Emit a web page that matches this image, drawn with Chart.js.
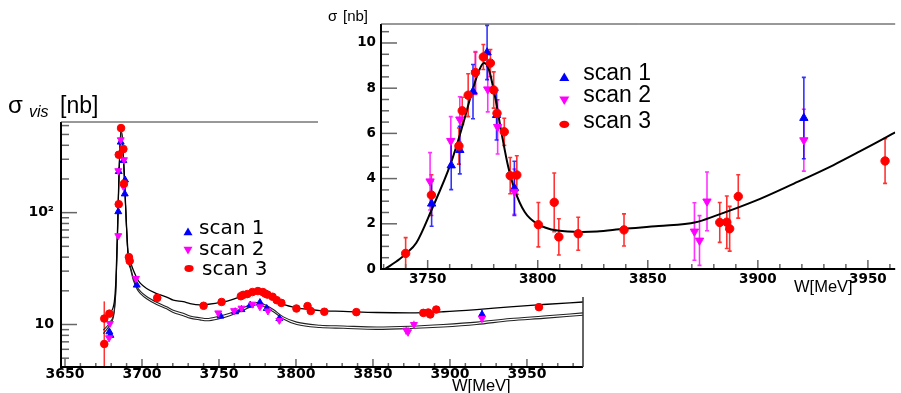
<!DOCTYPE html>
<html lang="en">
<head>
  <meta charset="UTF-8">
  <title>Visible cross section scans</title>
  <script src="https://cdn.jsdelivr.net/npm/chart.js"></script>
  <style>
    body { margin: 0; background: #ffffff; }
    #wrap { position: relative; width: 901px; height: 393px; overflow: hidden; }
    #mainChart { position: absolute; left: 0; top: 0; }
    #insetChart { position: absolute; left: 318px; top: 0; background: #ffffff; }
  </style>
</head>
<body>
  <div id="wrap">
    <canvas id="mainChart" width="901" height="393"></canvas>
    <canvas id="insetChart" width="583" height="297"></canvas>
  </div>

  <script>
    // ---- main panel (log scale, sigma_vis) ----
    const mainScan1W     = [3678.8, 3679.5, 3684.6, 3684.9, 3686.2, 3687.9, 3688.8, 3689.0, 3696.6, 3751.0, 3760.5, 3764.6, 3770.3, 3776.6, 3781.0, 3789.2, 3920.8];
    const mainScan1Sigma = [8.6, 8.0, 102, 233, 427, 292, 147, 196, 22.5, 11.9, 13.0, 13.6, 14.9, 15.7, 13.9, 11.3, 12.3];
    const mainScan1Err   = [0.5, 0.5, 3, 6, 10, 8, 4, 5, 1, 0.4, 0.4, 0.4, 0.5, 0.5, 0.5, 0.4, 1.2];

    const mainScan2W     = [3679.2, 3678.6, 3684.6, 3684.6, 3686.2, 3687.9, 3688.3, 3696.1, 3749.5, 3759.8, 3764.6, 3771.7, 3776.6, 3781.8, 3789.2, 3871.6, 3872.8, 3876.6, 3920.8];
    const mainScan2Sigma = [10.2, 7.6, 62.2, 237, 448, 171, 297, 25.8, 12.7, 13.3, 14.0, 15.2, 14.4, 13.2, 10.9, 8.9, 8.6, 10.0, 11.3];
    const mainScan2Err   = [0.6, 0.6, 2, 6, 10, 4, 7, 1, 0.4, 0.4, 0.4, 0.5, 0.5, 0.4, 0.4, 0.8, 0.8, 0.8, 0.9];

    const mainScan3W     = [3675.5, 3675.5, 3678.8, 3684.9, 3684.9, 3686.4, 3687.9, 3688.3, 3691.5, 3692.0, 3709.9, 3740.0, 3751.7, 3764.2, 3765.7, 3768.4, 3771.7, 3775.3, 3778.5, 3780.0, 3781.5, 3784.8, 3787.5, 3790.5, 3800.3, 3807.5, 3809.6, 3818.4, 3839.2, 3882.7, 3885.9, 3887.2, 3891.1, 3957.8];
    const mainScan3Sigma = [11.3, 6.7, 12.5, 119, 329, 570, 370, 181, 40, 37, 17.3, 14.7, 15.9, 17.9, 18.4, 18.7, 19.5, 19.9, 19.5, 18.9, 18.5, 17.7, 16.5, 15.6, 13.9, 14.6, 13.2, 13.0, 12.9, 12.7, 12.8, 12.3, 13.6, 14.3];
    const mainScan3Err   = [0.4, 9.4, 0.4, 3, 7, 10, 8, 4, 1, 1, 0.3, 0.3, 0.3, 0.3, 0.3, 0.3, 0.3, 0.3, 0.3, 0.3, 0.3, 0.3, 0.3, 0.3, 0.3, 0.3, 0.3, 0.3, 0.3, 0.3, 0.3, 0.3, 0.3, 0.3];

    // fitted curves
    const mainFit3W     = [3674.9, 3679.2, 3682, 3683.1, 3683.8, 3686.4, 3691.1, 3692.5, 3694.4, 3697, 3699, 3703, 3709.5, 3716, 3720.3, 3726.8, 3731.2, 3737.7, 3742, 3752.8, 3758, 3763.6, 3770.1, 3775.5, 3779.9, 3785.3, 3791.8, 3800.5, 3809, 3815.6, 3830.7, 3852.4, 3874, 3895.6, 3917.3, 3939, 3960.6, 3986.4];
    const mainFit3Sigma = [10.7, 12.8, 15.9, 25.8, 51, 575, 41.8, 36, 30.5, 25.5, 23.3, 21.0, 18.9, 17.6, 16.5, 16.0, 15.4, 15.0, 15.1, 15.9, 16.6, 17.7, 19.2, 19.9, 18.9, 16.7, 15.1, 14.1, 13.6, 13.3, 13.1, 12.8, 12.7, 13.0, 13.6, 14.4, 15.1, 15.9];

    const mainFitLowW    = [3674.9, 3679.2, 3682, 3683.1, 3683.8, 3686.4, 3691.1, 3692.5, 3694.4, 3697, 3699, 3703, 3709.5, 3716, 3720.3, 3726.8, 3731.2, 3737.7, 3742, 3750.6, 3757, 3763.6, 3770, 3775.5, 3780, 3785.3, 3791.8, 3800.5, 3815.6, 3830.7, 3852.4, 3874, 3895.6, 3917.3, 3939, 3960.6, 3986.4];
    const mainFit1Sigma  = [8.9, 10.5, 13.5, 22, 47, 560, 39, 33, 26, 21.5, 19.8, 17.8, 15.8, 14.4, 13.4, 12.6, 11.9, 11.5, 11.3, 11.9, 12.6, 13.6, 15.0, 15.8, 15.0, 13.6, 11.7, 10.5, 9.86, 9.7, 9.5, 9.65, 10.0, 10.5, 11.3, 11.9, 12.7];
    const mainFit2Sigma  = [8.3, 10.0, 13.0, 21, 46, 550, 38, 31.5, 24.8, 20.5, 18.9, 17.0, 15.1, 13.8, 12.8, 12.0, 11.4, 11.0, 10.8, 11.3, 12.0, 13.0, 14.3, 15.1, 14.3, 13.0, 11.2, 10.0, 9.4, 9.25, 9.05, 9.2, 9.5, 10.0, 10.8, 11.35, 12.1];

    // ---- inset panel (linear scale, sigma) ----
    const insetScan1W     = [3751.8, 3760.7, 3764.6, 3770.6, 3777.0, 3781.3, 3789.4, 3920.9];
    const insetScan1Sigma = [2.89, 4.58, 5.26, 7.85, 9.58, 6.81, 3.57, 6.68];
    const insetScan1Err   = [1.0, 1.07, 1.05, 1.2, 1.2, 1.1, 1.2, 1.8];

    const insetScan2W     = [3751.1, 3760.5, 3764.6, 3771.7, 3777.3, 3781.8, 3789.4, 3871.2, 3873.5, 3876.9, 3920.9];
    const insetScan2Sigma = [3.88, 5.67, 6.62, 8.67, 7.95, 6.29, 3.42, 1.66, 1.26, 2.99, 5.7];
    const insetScan2Err   = [1.27, 1.07, 1.0, 0.95, 1.0, 1.2, 1.0, 1.27, 1.1, 1.3, 1.37];

    const insetScan3W     = [3740.0, 3751.7, 3764.2, 3765.7, 3768.4, 3771.7, 3775.3, 3778.5, 3780.0, 3781.5, 3784.8, 3787.5, 3790.5, 3800.3, 3807.5, 3809.6, 3818.4, 3839.2, 3882.7, 3885.9, 3887.2, 3891.1, 3957.8];
    const insetScan3Sigma = [0.69, 3.27, 5.44, 7.0, 7.69, 8.69, 9.38, 9.11, 7.92, 6.89, 6.07, 4.13, 4.16, 1.96, 2.95, 1.42, 1.56, 1.73, 2.06, 2.07, 1.78, 3.21, 4.78];
    const insetScan3Err   = [0.7, 0.9, 0.8, 0.6, 0.95, 0.9, 0.55, 0.6, 0.8, 0.6, 0.6, 0.8, 0.85, 0.98, 1.3, 0.8, 0.73, 0.71, 0.88, 1.16, 0.99, 0.96, 0.99];

    const insetFitW     = [3730.6, 3737.3, 3740, 3744.8, 3751.7, 3760.5, 3765.7, 3770.2, 3773.2, 3775.5, 3777.6, 3780.6, 3783.6, 3786.6, 3789.6, 3794.1, 3799.7, 3809, 3820, 3826.9, 3839.1, 3855, 3871.8, 3880.6, 3898.5, 3916.4, 3934.4, 3946.3, 3957.8, 3962.4];
    const insetFitSigma = [0, 0.44, 0.67, 1.15, 2.6, 4.67, 6.29, 7.85, 8.74, 9.11, 8.89, 7.63, 6.0, 4.52, 3.48, 2.52, 2.0, 1.7, 1.64, 1.66, 1.78, 1.9, 2.07, 2.35, 3.0, 3.78, 4.6, 5.2, 5.8, 6.05];

    const BLUE = '#0000ff', MAGENTA = '#ff00ff', RED = '#ff0000';
    const TICK_FONT = { family: 'DejaVu Sans', weight: 'bold', size: 13.5 };

    const pts = (xs, ys) => xs.map((x, i) => ({ x: x, y: ys[i] }));

    function pointSet(xs, ys, errs, color, style, rot, r) {
      return {
        data: pts(xs, ys), errs: errs, showLine: false, order: 0,
        pointStyle: style, rotation: rot, pointRadius: r,
        pointBackgroundColor: color, pointBorderColor: color, pointBorderWidth: 1,
        borderColor: color, backgroundColor: color
      };
    }

    function curveSet(xs, ys, color, width) {
      return {
        data: pts(xs, ys), showLine: true, pointRadius: 0, order: 1,
        borderColor: color, borderWidth: width, cubicInterpolationMode: 'monotone', fill: false
      };
    }

    // vertical error bars, drawn under the markers
    const errorBars = {
      id: 'errorBars',
      beforeDatasetsDraw(chart, args, opts) {
        const { ctx, chartArea: a, scales: { x, y } } = chart;
        ctx.save();
        ctx.beginPath();
        ctx.rect(a.left, a.top, a.right - a.left, a.bottom - a.top);
        ctx.clip();
        chart.data.datasets.forEach(ds => {
          if (!ds.errs) return;
          ctx.strokeStyle = ds.borderColor;
          ctx.globalAlpha = 0.8;
          ctx.lineWidth = opts.width;
          ds.data.forEach((p, i) => {
            const e = ds.errs[i];
            const px = x.getPixelForValue(p.x);
            const lo = p.y - e;
            const yTop = y.getPixelForValue(p.y + e);
            const yBot = (y.type === 'logarithmic' && lo <= 0) ? a.bottom + 20 : y.getPixelForValue(lo);
            ctx.beginPath();
            ctx.moveTo(px, yTop);
            ctx.lineTo(px, yBot);
            if (opts.cap) {
              ctx.moveTo(px - opts.cap, yTop); ctx.lineTo(px + opts.cap, yTop);
              ctx.moveTo(px - opts.cap, yBot); ctx.lineTo(px + opts.cap, yBot);
            }
            ctx.stroke();
          });
        });
        ctx.restore();
      }
    };

    function marker(ctx, kind, x, y, r, color) {
      ctx.fillStyle = color;
      ctx.beginPath();
      if (kind === 'up') {
        ctx.moveTo(x, y - r); ctx.lineTo(x + r, y + r * 0.7); ctx.lineTo(x - r, y + r * 0.7);
      } else if (kind === 'down') {
        ctx.moveTo(x, y + r); ctx.lineTo(x + r, y - r * 0.7); ctx.lineTo(x - r, y - r * 0.7);
      } else {
        ctx.ellipse(x, y, r * 1.15, r * 0.85, 0, 0, 2 * Math.PI);
      }
      ctx.closePath();
      ctx.fill();
    }

    function tickLine(ctx, x1, y1, x2, y2) {
      ctx.beginPath(); ctx.moveTo(x1, y1); ctx.lineTo(x2, y2); ctx.stroke();
    }

    // frame, ticks and texts of the log panel
    const mainDecor = {
      id: 'mainDecor',
      afterDraw(chart) {
        const { ctx, chartArea: a, scales: { x, y } } = chart;
        ctx.save();
        ctx.strokeStyle = '#666';
        ctx.lineWidth = 1.5;
        for (let d = 1; d <= 100; d *= 10) {
          for (let m = 1; m < 10; m++) {
            const v = m * d;
            if (v < y.min || v > y.max) continue;
            const py = y.getPixelForValue(v);
            tickLine(ctx, a.left, py, a.left + (m === 1 ? 16 : 8), py);
          }
        }
        for (let w = 3650; w <= 3980; w += 10) {
          const px = x.getPixelForValue(w);
          tickLine(ctx, px, a.bottom, px, a.bottom - (w % 50 === 0 ? 8 : 4));
        }
        ctx.strokeStyle = '#000';
        ctx.lineWidth = 2;
        tickLine(ctx, a.left, a.top, a.left, a.bottom + 1);
        tickLine(ctx, a.left - 1, a.bottom, a.right, a.bottom);
        ctx.lineWidth = 1.5;
        ctx.strokeStyle = '#333';
        tickLine(ctx, a.right, a.top, a.right, a.bottom);
        ctx.lineWidth = 1;
        tickLine(ctx, a.left, a.top, a.right, a.top);

        ctx.fillStyle = '#000';
        ctx.font = '24px "Liberation Sans"';
        ctx.fillText('σ', 8, 113);
        ctx.font = 'italic 16px "Liberation Sans"';
        ctx.fillText('vis', 29, 117);
        ctx.font = '23px "Liberation Sans"';
        ctx.fillText('[nb]', 60, 113);
        ctx.font = '16.5px "Liberation Sans"';
        ctx.fillText('W[MeV]', 452, 391);

        marker(ctx, 'up', 188, 232, 4.5, BLUE);
        marker(ctx, 'down', 188, 250, 4.5, MAGENTA);
        marker(ctx, 'dot', 189, 268.5, 4, RED);
        ctx.fillStyle = '#000';
        ctx.font = '20px "DejaVu Sans"';
        ctx.fillText('scan 1', 199, 234);
        ctx.fillText('scan 2', 199, 255);
        ctx.fillText('scan 3', 202, 274.5);
        ctx.restore();
      }
    };

    // frame, ticks and texts of the inset
    const insetDecor = {
      id: 'insetDecor',
      afterDraw(chart) {
        const { ctx, chartArea: a, scales: { x, y } } = chart;
        ctx.save();
        ctx.strokeStyle = '#666';
        ctx.lineWidth = 1.5;
        for (let k = 0; k <= 21; k++) {
          const py = y.getPixelForValue(k * 0.5);
          tickLine(ctx, a.left, py, a.left + (k % 4 === 0 ? 16 : 8), py);
        }
        for (let w = 3730; w <= 3960; w += 10) {
          const px = x.getPixelForValue(w);
          tickLine(ctx, px, a.bottom, px, a.bottom - (w % 50 === 0 ? 9 : 5));
        }
        ctx.strokeStyle = '#000';
        ctx.lineWidth = 2;
        tickLine(ctx, a.left, a.top, a.left, a.bottom + 1);
        tickLine(ctx, a.left - 1, a.bottom, a.right, a.bottom);
        ctx.strokeStyle = '#333';
        ctx.lineWidth = 1;
        tickLine(ctx, a.left, a.top, a.right, a.top);

        ctx.fillStyle = '#000';
        ctx.font = '15px "Liberation Sans"';
        ctx.fillText('σ', 10, 21);
        ctx.fillText('[nb]', 25, 21);
        ctx.font = '16.5px "Liberation Sans"';
        ctx.fillText('W[MeV]', 476, 292);

        marker(ctx, 'up', 246.3, 77.5, 5, BLUE);
        marker(ctx, 'down', 246.3, 100, 5, MAGENTA);
        marker(ctx, 'dot', 246.3, 124.3, 4.3, RED);
        ctx.fillStyle = '#000';
        ctx.font = '23px "Liberation Sans"';
        ctx.fillText('scan 1', 265.3, 80);
        ctx.fillText('scan 2', 265.3, 102);
        ctx.fillText('scan 3', 265.3, 128);
        ctx.restore();
      }
    };

    new Chart(document.getElementById('mainChart'), {
      type: 'scatter',
      data: {
        datasets: [
          curveSet(mainFit3W, mainFit3Sigma, '#000', 1.3),
          curveSet(mainFitLowW, mainFit1Sigma, '#222', 1.1),
          curveSet(mainFitLowW, mainFit2Sigma, '#222', 1.1),
          pointSet(mainScan3W, mainScan3Sigma, mainScan3Err, RED, 'circle', 0, 3.8),
          pointSet(mainScan2W, mainScan2Sigma, mainScan2Err, MAGENTA, 'triangle', 180, 4),
          pointSet(mainScan1W, mainScan1Sigma, mainScan1Err, BLUE, 'triangle', 0, 4)
        ]
      },
      options: {
        responsive: false,
        animation: false,
        devicePixelRatio: 1,
        layout: { padding: { top: 122, right: 318, left: 0, bottom: 0 } },
        plugins: { legend: { display: false }, tooltip: { enabled: false }, errorBars: { width: 1.5, cap: 0 } },
        scales: {
          x: {
            type: 'linear', min: 3647.4, max: 3986.4,
            grid: { display: false, drawTicks: false }, border: { display: false },
            afterFit: s => { s.height = 26; },
            afterBuildTicks: s => { s.ticks = [3650, 3700, 3750, 3800, 3850, 3900, 3950].map(v => ({ value: v })); },
            ticks: { autoSkip: false, maxRotation: 0, padding: -1, color: '#000', font: { family: 'DejaVu Sans', weight: 'bold', size: 14 }, callback: v => String(v) }
          },
          y: {
            type: 'logarithmic', min: 4.17, max: 646,
            grid: { display: false, drawTicks: false }, border: { display: false },
            afterFit: s => { s.width = 61; },
            afterBuildTicks: s => { s.ticks = [10, 100].map(v => ({ value: v })); },
            ticks: { padding: 7, color: '#000', font: { family: 'DejaVu Sans', weight: 'bold', size: 14 }, callback: v => (v === 100 ? '10²' : '10') }
          }
        }
      },
      plugins: [errorBars, mainDecor]
    });

    new Chart(document.getElementById('insetChart'), {
      type: 'scatter',
      data: {
        datasets: [
          curveSet(insetFitW, insetFitSigma, '#000', 2),
          pointSet(insetScan3W, insetScan3Sigma, insetScan3Err, RED, 'circle', 0, 4.2),
          pointSet(insetScan2W, insetScan2Sigma, insetScan2Err, MAGENTA, 'triangle', 180, 4.8),
          pointSet(insetScan1W, insetScan1Sigma, insetScan1Err, BLUE, 'triangle', 0, 4.8)
        ]
      },
      options: {
        responsive: false,
        animation: false,
        devicePixelRatio: 1,
        layout: { padding: { top: 24, right: 0, left: 0, bottom: 0 } },
        plugins: { legend: { display: false }, tooltip: { enabled: false }, errorBars: { width: 1.6, cap: 2 } },
        scales: {
          x: {
            type: 'linear', min: 3728.8, max: 3962.4,
            grid: { display: false, drawTicks: false }, border: { display: false },
            afterFit: s => { s.height = 28; },
            afterBuildTicks: s => { s.ticks = [3750, 3800, 3850, 3900, 3950].map(v => ({ value: v })); },
            ticks: { autoSkip: false, maxRotation: 0, padding: 2, color: '#000', font: TICK_FONT, callback: v => String(v) }
          },
          y: {
            type: 'linear', min: 0, max: 10.84,
            grid: { display: false, drawTicks: false }, border: { display: false },
            afterFit: s => { s.width = 63; },
            afterBuildTicks: s => { s.ticks = [0, 2, 4, 6, 8, 10].map(v => ({ value: v })); },
            ticks: { padding: 5, color: '#000', font: TICK_FONT, callback: v => String(v) }
          }
        }
      },
      plugins: [errorBars, insetDecor]
    });
  </script>
</body>
</html>
